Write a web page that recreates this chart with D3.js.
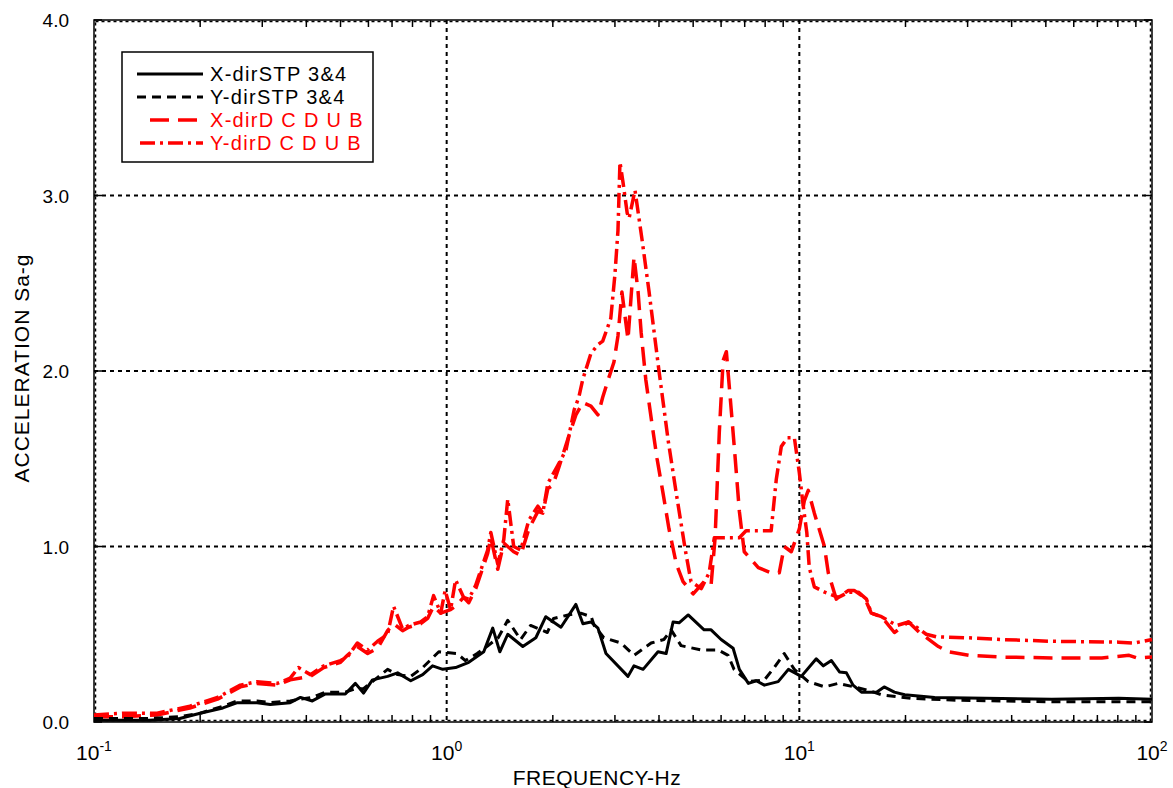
<!DOCTYPE html>
<html>
<head>
<meta charset="utf-8">
<script src="https://cdn.jsdelivr.net/npm/d3@7"></script>
<style>
  body { margin: 0; background: #fff; }
  svg { display: block; font-family: "Liberation Sans", Arial, sans-serif; }
</style>
</head>
<body>
<svg id="chart" width="1173" height="788"></svg>
<script>
// axis ticks
var xMajor = [0.1, 1, 10, 100];
var xExp = ["-1", "0", "1", "2"];
var yTicks = [0, 1, 2, 3, 4];

// [frequency Hz, acceleration g]
var xdirSTP = [[0.10,0.01],[0.121,0.01],[0.144,0.01],[0.175,0.02],[0.20,0.05],[0.232,0.08],[0.255,0.11],[0.29,0.11],[0.316,0.10],[0.36,0.11],[0.385,0.14],[0.416,0.12],[0.453,0.16],[0.516,0.16],[0.551,0.22],[0.581,0.165],[0.616,0.24],[0.68,0.26],[0.726,0.28],[0.791,0.235],[0.855,0.27],[0.912,0.32],[0.975,0.30],[1.06,0.31],[1.155,0.34],[1.274,0.40],[1.351,0.535],[1.415,0.40],[1.49,0.50],[1.644,0.43],[1.79,0.48],[1.91,0.60],[2.109,0.54],[2.325,0.67],[2.434,0.56],[2.565,0.57],[2.685,0.535],[2.83,0.39],[3.267,0.26],[3.398,0.32],[3.605,0.30],[3.974,0.40],[4.19,0.39],[4.385,0.57],[4.56,0.565],[4.84,0.61],[5.37,0.525],[5.62,0.525],[6.0,0.47],[6.49,0.42],[6.76,0.30],[7.17,0.22],[7.55,0.235],[7.96,0.21],[8.71,0.23],[9.31,0.30],[10.13,0.26],[11.17,0.36],[11.7,0.32],[12.33,0.35],[13.0,0.285],[13.6,0.28],[14.2,0.21],[15.0,0.17],[16.55,0.17],[17.4,0.20],[18.6,0.17],[19.9,0.155],[24.2,0.14],[33.6,0.135],[52,0.13],[80.5,0.135],[100,0.13]];

var ydirSTP = [[0.10,0.02],[0.121,0.02],[0.144,0.02],[0.175,0.03],[0.20,0.05],[0.232,0.09],[0.255,0.12],[0.29,0.12],[0.316,0.11],[0.36,0.12],[0.385,0.13],[0.416,0.14],[0.453,0.17],[0.516,0.17],[0.551,0.19],[0.581,0.19],[0.616,0.23],[0.68,0.30],[0.726,0.27],[0.791,0.26],[0.855,0.31],[0.95,0.40],[1.07,0.39],[1.13,0.35],[1.22,0.39],[1.30,0.43],[1.40,0.48],[1.49,0.58],[1.62,0.47],[1.73,0.55],[1.93,0.51],[2.01,0.59],[2.21,0.61],[2.40,0.62],[2.57,0.60],[2.62,0.55],[2.79,0.48],[3.12,0.45],[3.40,0.38],[3.80,0.45],[4.13,0.47],[4.33,0.525],[4.62,0.435],[5.27,0.41],[5.89,0.41],[6.28,0.38],[6.53,0.30],[7.17,0.23],[7.96,0.24],[8.49,0.31],[9.06,0.39],[9.68,0.30],[10.6,0.23],[11.8,0.20],[12.9,0.22],[14.3,0.20],[15.7,0.18],[17.1,0.155],[20.8,0.135],[27,0.125],[52,0.115],[100,0.115]];

var xdirDCDUB = [[0.10,0.03],[0.121,0.03],[0.151,0.04],[0.187,0.08],[0.224,0.13],[0.26,0.20],[0.29,0.22],[0.331,0.21],[0.36,0.24],[0.411,0.26],[0.448,0.31],[0.50,0.34],[0.523,0.38],[0.558,0.43],[0.597,0.39],[0.637,0.42],[0.68,0.52],[0.707,0.56],[0.75,0.52],[0.78,0.54],[0.844,0.56],[0.883,0.59],[0.918,0.66],[0.962,0.62],[1.026,0.64],[1.06,0.66],[1.117,0.71],[1.155,0.68],[1.209,0.76],[1.307,0.96],[1.334,1.05],[1.396,0.87],[1.452,1.02],[1.549,0.97],[1.622,0.95],[1.71,1.10],[1.814,1.20],[1.873,1.19],[1.936,1.33],[2.0,1.35],[2.08,1.45],[2.22,1.63],[2.325,1.75],[2.434,1.82],[2.565,1.80],[2.685,1.75],[2.77,1.85],[2.87,1.95],[2.98,2.05],[3.06,2.20],[3.14,2.45],[3.267,2.18],[3.398,2.65],[3.49,2.45],[3.56,2.22],[3.67,1.95],[3.82,1.70],[3.95,1.50],[4.11,1.30],[4.27,1.10],[4.48,0.90],[4.68,0.80],[5.0,0.73],[5.37,0.80],[5.62,0.78],[5.77,1.05],[5.93,1.65],[6.08,2.06],[6.21,2.11],[6.41,1.78],[6.58,1.50],[6.76,1.20],[6.98,0.97],[7.65,0.88],[8.32,0.85],[8.77,0.85],[9.06,1.00],[9.49,0.97],[10.0,1.10],[10.33,1.26],[10.6,1.32],[11.03,1.19],[11.78,1.00],[12.08,0.85],[12.73,0.70],[13.78,0.75],[14.3,0.75],[15.3,0.71],[16.0,0.62],[17.1,0.60],[18.6,0.51],[20.4,0.57],[21.9,0.51],[24.8,0.43],[26.5,0.40],[30.2,0.38],[37.5,0.37],[52,0.365],[72.1,0.365],[86.1,0.38],[90.6,0.365],[100,0.37]];

var ydirDCDUB = [[0.10,0.04],[0.121,0.05],[0.151,0.05],[0.187,0.09],[0.224,0.14],[0.26,0.21],[0.29,0.23],[0.331,0.22],[0.36,0.25],[0.38,0.31],[0.411,0.27],[0.448,0.32],[0.50,0.35],[0.523,0.37],[0.558,0.45],[0.597,0.41],[0.637,0.46],[0.68,0.50],[0.707,0.66],[0.75,0.53],[0.78,0.55],[0.844,0.57],[0.883,0.60],[0.918,0.72],[0.962,0.62],[0.99,0.75],[1.026,0.64],[1.06,0.81],[1.117,0.71],[1.155,0.70],[1.209,0.78],[1.307,0.98],[1.334,1.08],[1.396,0.90],[1.452,1.04],[1.49,1.27],[1.549,1.00],[1.622,0.98],[1.71,1.15],[1.814,1.23],[1.873,1.19],[1.936,1.36],[2.05,1.45],[2.18,1.55],[2.30,1.78],[2.37,1.85],[2.43,1.95],[2.565,2.10],[2.685,2.15],[2.77,2.17],[2.92,2.30],[3.0,2.55],[3.06,2.80],[3.10,3.19],[3.16,3.08],[3.25,2.90],[3.29,2.87],[3.42,3.03],[3.58,2.75],[3.75,2.45],[4.0,2.00],[4.25,1.60],[4.48,1.30],[4.75,0.98],[4.93,0.80],[5.27,0.76],[5.55,0.85],[5.74,1.05],[6.76,1.05],[7.06,1.09],[8.32,1.09],[8.6,1.38],[8.89,1.57],[9.25,1.62],[9.68,1.62],[10.0,1.42],[10.26,1.23],[10.5,1.08],[10.67,0.88],[11.03,0.77],[11.8,0.74],[12.9,0.71],[13.8,0.74],[14.7,0.74],[15.5,0.70],[16.0,0.62],[17.1,0.60],[18.9,0.55],[20.4,0.57],[21.5,0.54],[22.9,0.50],[24.5,0.485],[30,0.48],[37.5,0.47],[52,0.46],[80.5,0.455],[88.9,0.45],[100,0.47]];

var seriesNames = ["X-dirSTP 3&4", "Y-dirSTP 3&4", "X-dirD C D U B", "Y-dirD C D U B"];
var seriesColors = ["#000", "#000", "#ff0000", "#ff0000"];
var seriesDash = [null, "9,6", "19,9", "15,5,3,5"];
var seriesData = [xdirSTP, ydirSTP, xdirDCDUB, ydirDCDUB];

var svg = d3.select("#chart");
var pLeft = 94, pRight = 1152, pTop = 20, pBottom = 722;

var x = d3.scaleLog().domain([0.1, 100]).range([pLeft, pRight]);
var y = d3.scaleLinear().domain([0, 4]).range([pBottom, pTop]);

// minor tick positions 2..9 in each decade
var minor = [];
[0.1, 1, 10].forEach(function(d) {
  for (var k = 2; k <= 9; k++) minor.push(d * k);
});

// grid lines (dotted)
var grid = svg.append("g").attr("stroke", "#000").attr("stroke-width", 2).attr("stroke-dasharray", "4,4");
[1, 10].forEach(function(v) {
  grid.append("line").attr("x1", x(v)).attr("x2", x(v)).attr("y1", pTop).attr("y2", pBottom);
});
[1, 2, 3].forEach(function(v) {
  grid.append("line").attr("x1", pLeft).attr("x2", pRight).attr("y1", y(v)).attr("y2", y(v));
});

// frame
svg.append("rect").attr("x", pLeft).attr("y", pTop).attr("width", pRight - pLeft).attr("height", pBottom - pTop)
  .attr("fill", "none").attr("stroke", "#000").attr("stroke-width", 1.5);
svg.append("rect").attr("x", pLeft + 1.5).attr("y", pTop + 1.5).attr("width", pRight - pLeft - 3).attr("height", pBottom - pTop - 3)
  .attr("fill", "none").attr("stroke", "#000").attr("stroke-width", 1.5).attr("stroke-dasharray", "3,3");

// ticks
var ticks = svg.append("g").attr("stroke", "#000").attr("stroke-width", 1.5);
minor.forEach(function(v) {
  ticks.append("line").attr("x1", x(v)).attr("x2", x(v)).attr("y1", pBottom).attr("y2", pBottom - 7);
  ticks.append("line").attr("x1", x(v)).attr("x2", x(v)).attr("y1", pTop).attr("y2", pTop + 7);
});
yTicks.forEach(function(v) {
  ticks.append("line").attr("x1", pLeft).attr("x2", pLeft + 8).attr("y1", y(v)).attr("y2", y(v));
  ticks.append("line").attr("x1", pRight).attr("x2", pRight - 8).attr("y1", y(v)).attr("y2", y(v));
});

// y tick labels
svg.append("g").selectAll("text").data(yTicks).join("text")
  .attr("x", 69).attr("y", function(d) { return y(d) + 7; })
  .attr("text-anchor", "end").attr("font-size", 19).attr("fill", "#000")
  .text(function(d) { return d.toFixed(1); });

// x tick labels 10^n
xMajor.forEach(function(v, i) {
  var t = svg.append("text").attr("x", x(v)).attr("y", 760)
    .attr("text-anchor", "middle").attr("font-size", 21).attr("fill", "#000");
  t.append("tspan").text("10");
  t.append("tspan").attr("dy", -9).attr("font-size", 14).text(xExp[i]);
});

// axis titles
svg.append("text").attr("x", 597).attr("y", 785).attr("text-anchor", "middle")
  .attr("font-size", 21).attr("letter-spacing", 0.5).text("FREQUENCY-Hz");
svg.append("text").attr("transform", "translate(29,368) rotate(-90)").attr("text-anchor", "middle")
  .attr("font-size", 21).attr("letter-spacing", 1).text("ACCELERATION Sa-g");

// series lines
var line = d3.line().x(function(d) { return x(d[0]); }).y(function(d) { return y(d[1]); });
var order = [3, 2, 1, 0];
order.forEach(function(i) {
  svg.append("path").datum(seriesData[i])
    .attr("fill", "none")
    .attr("stroke", seriesColors[i])
    .attr("stroke-width", i < 2 ? 3 : 3.5)
    .attr("stroke-linejoin", "round")
    .attr("stroke-dasharray", seriesDash[i])
    .attr("d", line);
});

// legend
var lg = svg.append("g");
lg.append("rect").attr("x", 122).attr("y", 52).attr("width", 251).attr("height", 110)
  .attr("fill", "#fff").attr("stroke", "#000").attr("stroke-width", 1.5);
var rowY = [74, 97, 120, 143];
var sampleStart = [137, 137, 150, 140];
seriesNames.forEach(function(name, i) {
  lg.append("line").attr("x1", sampleStart[i]).attr("x2", 203).attr("y1", rowY[i]).attr("y2", rowY[i])
    .attr("stroke", seriesColors[i]).attr("stroke-width", i < 2 ? 3 : 3.5)
    .attr("stroke-dasharray", seriesDash[i]);
  lg.append("text").attr("x", 210).attr("y", rowY[i] + 7)
    .attr("font-size", 20).attr("letter-spacing", 1.3).attr("fill", seriesColors[i]).text(name);
});
</script>
</body>
</html>
